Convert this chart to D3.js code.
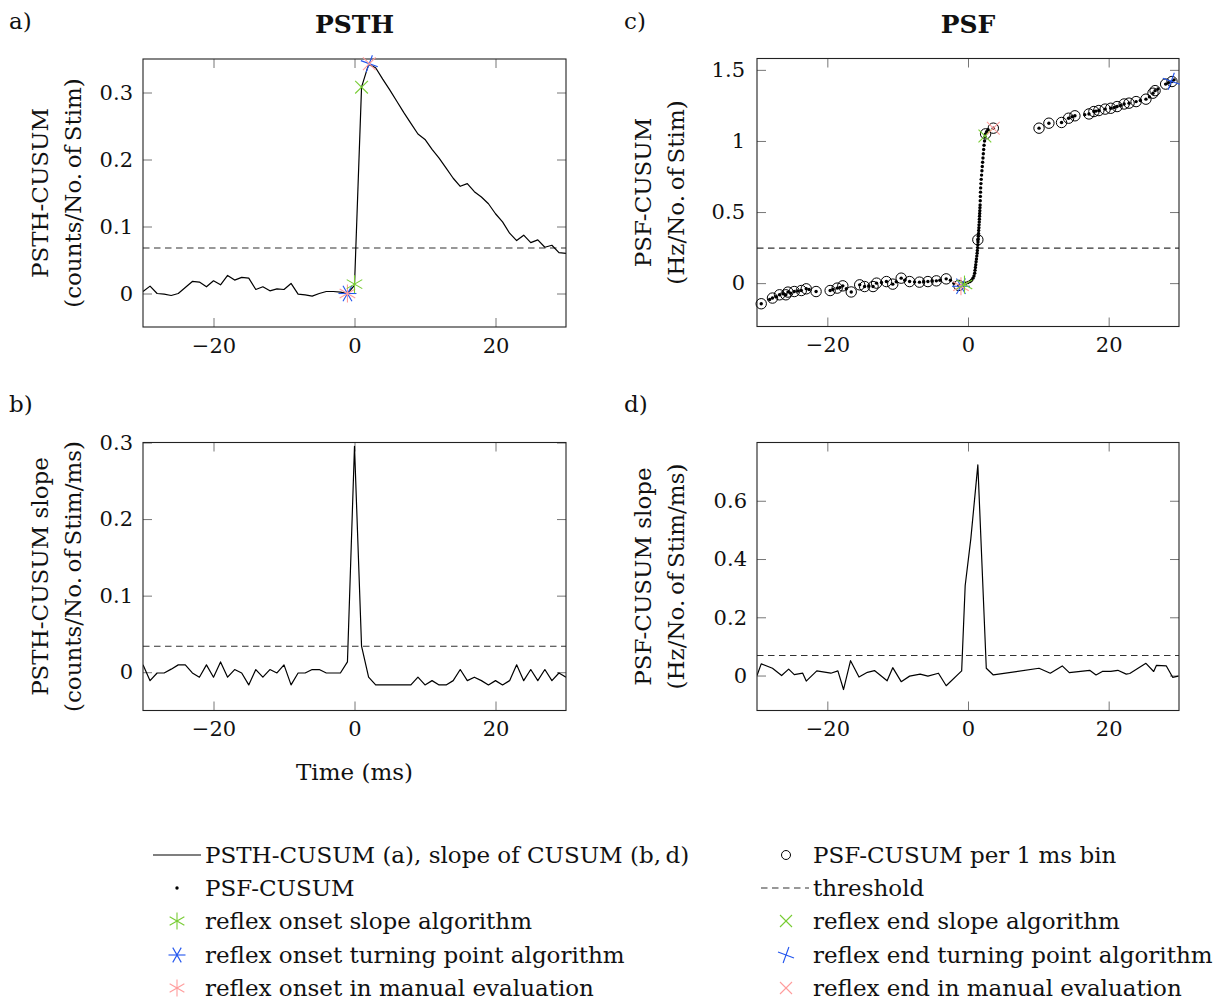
<!DOCTYPE html>
<meta charset="utf-8">
<script src="https://d3js.org/d3.v7.min.js"></script>
<body style="margin: 0; background: #fff;">
<svg id="fig" width="1228" height="1003"></svg>
</body>

<style>
  text { font-family: "DejaVu Serif", "Liberation Serif", serif; fill: #111; }
  .tick line { stroke: #777; stroke-width: 1px; }
</style>

<script>

// ---- data ----
var timeMs = d3.range(-30, 31);   // 1 ms bins, -30 .. 30

var psthCusum = [0.003, 0.011, 0.000, -0.001, -0.003, 0.000, 0.009, 0.018, 0.017, 0.010,
                 0.019, 0.013, 0.027, 0.020, 0.024, 0.023, 0.006, 0.010, 0.004, 0.007,
                 0.006, 0.015, -0.001, -0.002, -0.004, 0.000, 0.003, 0.003, 0.002, 0.000,
                 0.012, 0.308, 0.342, 0.337, 0.320, 0.304, 0.287, 0.270, 0.254, 0.238,
                 0.230, 0.215, 0.202, 0.187, 0.172, 0.160, 0.164, 0.152, 0.144, 0.134,
                 0.119, 0.107, 0.090, 0.079, 0.087, 0.076, 0.080, 0.069, 0.072, 0.061, 0.060];

var psthSlope = [0.0096, -0.011, -0.001, -0.001, 0.004, 0.0096, 0.0096, -0.001, -0.0065, 0.0096,
                 -0.0065, 0.0135, -0.0065, 0.0035, -0.001, -0.0166, 0.0035, -0.0065, 0.0035, -0.001,
                 0.0096, -0.0166, -0.001, -0.001, 0.0035, 0.0035, -0.001, -0.001, -0.001, 0.0135,
                 0.295, 0.034, -0.0065, -0.0166, -0.0166, -0.0166, -0.0166, -0.0166, -0.0166, -0.0065,
                 -0.0166, -0.011, -0.0166, -0.0166, -0.011, 0.0035, -0.011, -0.0065, -0.011, -0.0166,
                 -0.011, -0.0166, -0.011, 0.0096, -0.011, 0.0035, -0.011, 0.0035, -0.011, -0.001, -0.0065];

var psfSlopeT = [-30, -29.4, -27.8, -26.5, -25.5, -24.7, -23.5, -23, -21.5, -19.5, -18.5, -17.7, -16.7,
                 -15.5, -14.3, -13.3, -11.5, -10.7, -9.5, -8.3, -6.8, -5.7, -4.2, -3.1, -0.9, -0.4, 0.4,
                 1.4, 2.6, 3.6, 10.1, 11.7, 13.4, 14.4, 17.3, 18.2, 19.1, 20.3, 21.3, 22.5, 23,
                 25.3, 26.4, 26.8, 28.2, 29.1, 29.9];
var psfSlopeV = [0, 0.040, 0.025, 0, 0.022, 0.003, 0.008, -0.019, 0.016, 0.008, 0.016, -0.048, 0.051,
                 -0.005, 0.011, 0.017, -0.018, 0.027, -0.021, -0.002, 0.005, -0.002, 0.008, -0.035, 0.016, 0.309, 0.469,
                 0.723, 0.025, 0.002, 0.025, 0.008, 0.033, 0.010, 0.018, 0.002, 0.014, 0.014, 0.018, 0.005, 0.007,
                 0.042, 0.014, 0.035, 0.033, -0.006, -0.002];

// PSF-CUSUM per 1 ms bin (circles)
var psfBinT = [-29.4, -27.8, -26.8, -25.9, -25.6, -24.7, -23.7, -23.0, -21.6, -19.6, -18.6, -17.8, -16.6,
               -15.4, -14.7, -13.5, -13.0, -11.6, -10.7, -9.5, -8.3, -6.9, -5.7, -4.5, -3.1, -1.3,
               1.4, 2.5, 3.6,
               10.1, 11.5, 13.3, 14.3, 15.2, 17.2, 17.9, 18.6, 19.5, 20.3, 21.2, 22.2, 22.9, 23.9,
               25.3, 26.3, 26.6, 28.1, 29.0];
var psfBinV = [-0.145, -0.105, -0.082, -0.082, -0.063, -0.059, -0.052, -0.040, -0.059, -0.052, -0.035, -0.019, -0.062,
               -0.012, -0.024, -0.024, 0.000, 0.011, -0.007, 0.035, 0.011, 0.007, 0.011, 0.016, 0.030, -0.016,
               0.305, 1.05, 1.09,
               1.09, 1.125, 1.13, 1.16, 1.177, 1.19, 1.207, 1.214, 1.224, 1.23, 1.242, 1.26, 1.266, 1.277,
               1.294, 1.336, 1.354, 1.40, 1.418];

// PSF-CUSUM (single spikes, dots)
var psfSpikeT = [-28.2, -27.3, -26.3, -25.2, -24.2, -22.6, -19.2, -18.2, -17.3, -14.1, -12.3, -10.2, -9.0,
                 -7.6, -6.3, -5.1, -4.0, -2.5, -2.0,
                 -0.6, -0.3, 0.0, 0.3, 0.5, 0.7, 0.85, 0.95, 1.0, 1.05, 1.1, 1.15, 1.2, 1.25, 1.3, 1.33,
                 1.36, 1.4, 1.42, 1.45, 1.47, 1.5, 1.52, 1.55, 1.57, 1.6, 1.62, 1.64, 1.66, 1.68, 1.7,
                 1.72, 1.74, 1.76, 1.78, 1.8, 1.84, 1.88, 1.93, 1.98, 2.03, 2.08, 2.13, 2.18, 2.23, 2.28,
                 2.35, 2.42, 2.65, 2.85,
                 14.8, 16.6, 18.2, 20.8, 21.7, 24.5, 25.8, 27.0, 28.5, 29.3];
var psfSpikeV = [-0.115, -0.095, -0.075, -0.070, -0.055, -0.045, -0.045, -0.030, -0.040, -0.020, 0.005, 0.010, 0.020,
                 0.008, 0.010, 0.015, 0.020, 0.020, 0.000,
                 -0.005, 0.000, 0.005, 0.012, 0.020, 0.035, 0.050, 0.070, 0.090, 0.110, 0.130, 0.150, 0.170, 0.190, 0.210, 0.230,
                 0.250, 0.270, 0.290, 0.310, 0.330, 0.350, 0.370, 0.390, 0.410, 0.430, 0.450, 0.470, 0.490, 0.510, 0.530,
                 0.550, 0.580, 0.610, 0.640, 0.670, 0.700, 0.730, 0.760, 0.790, 0.820, 0.850, 0.880, 0.910, 0.940, 0.970,
                 1.000, 1.030, 1.065, 1.080,
                 1.170, 1.185, 1.210, 1.235, 1.250, 1.285, 1.310, 1.365, 1.410, 1.430];

var thresholds = {a: 0.068, b: 0.034, c: 0.246, d: 0.069};

// detected onset / end points: [t, value]
var onsetSlopeA = [0, 0.014],   onsetTurnA = [-1, 0.0],    onsetManualA = [-1, 0.0];
var endSlopeA   = [1, 0.308],   endTurnA   = [2.1, 0.343], endManualA   = [2.1, 0.343];
var onsetSlopeC = [-0.5, -0.01], onsetTurnC = [-1, -0.022], onsetManualC = [-1, -0.022];
var endSlopeC   = [2.4, 1.035],  endTurnC   = [28.9, 1.42], endManualC   = [3.6, 1.09];

var xTicks = [-20, 0, 20];

var legendLeft  = ["PSTH-CUSUM (a), slope of CUSUM (b,\u2009d)", "PSF-CUSUM",
                   "reflex onset slope algorithm", "reflex onset turning point algorithm",
                   "reflex onset in manual evaluation"];
var legendRight = ["PSF-CUSUM per 1 ms bin", "threshold", "reflex end slope algorithm",
                   "reflex end turning point algorithm", "reflex end in manual evaluation"];

var GREEN = "#77cc33", BLUE = "#2255ee", PINK = "#ff9c9c";

// ---- drawing ----
var svg = d3.select("#fig");
var fmt = d3.format("~g");
var FS_TICK = "21px";
var FS = "23px";

// marker glyphs
function marker(g, type, cx, cy, color, r) {
  r = r || 9;
  var m = g.append("g").attr("transform", "translate(" + cx + "," + cy + ")")
           .attr("stroke", color).attr("stroke-width", 1.1).attr("fill", "none");
  var angles;
  if (type === "asterisk") angles = [90, 30, -30];
  else if (type === "asteriskH") angles = [0, 60, -60];
  else if (type === "cross") angles = [45, -45];
  else if (type === "plus") angles = [70, -20];
  angles.forEach(function(a) {
    var rad = a * Math.PI / 180;
    m.append("line")
      .attr("x1", -r * Math.cos(rad)).attr("y1", r * Math.sin(rad))
      .attr("x2",  r * Math.cos(rad)).attr("y2", -r * Math.sin(rad));
  });
}

var clipId = 0;
function panel(cfg) {
  var g = svg.append("g").attr("transform", "translate(" + cfg.left + "," + cfg.top + ")");
  var x = d3.scaleLinear().domain([-30, 30]).range([0, cfg.w]);
  var y = d3.scaleLinear().domain(cfg.yDomain).range([cfg.h, 0]);

  var id = "clip" + (clipId++);
  g.append("clipPath").attr("id", id).append("rect").attr("width", cfg.w).attr("height", cfg.h);

  function styleAxis(ag) {
    ag.select(".domain").remove();
    ag.attr("font-family", null).attr("font-size", FS_TICK);
  }
  g.append("g").attr("transform", "translate(0," + cfg.h + ")")
    .call(d3.axisBottom(x).tickValues(xTicks).tickSizeInner(-9).tickSizeOuter(0).tickPadding(11).tickFormat(fmt))
    .call(styleAxis);
  g.append("g")
    .call(d3.axisTop(x).tickValues(xTicks).tickSizeInner(-9).tickSizeOuter(0).tickFormat(""))
    .call(styleAxis);
  g.append("g")
    .call(d3.axisLeft(y).tickValues(cfg.yTicks).tickSizeInner(-9).tickSizeOuter(0).tickPadding(cfg.ypad || 10).tickFormat(fmt))
    .call(styleAxis);
  g.append("g").attr("transform", "translate(" + cfg.w + ",0)")
    .call(d3.axisRight(y).tickValues(cfg.yTicks).tickSizeInner(-9).tickSizeOuter(0).tickFormat(""))
    .call(styleAxis);

  var plot = g.append("g").attr("clip-path", "url(#" + id + ")");
  plot.append("line")
    .attr("x1", 0).attr("x2", cfg.w)
    .attr("y1", y(cfg.threshold)).attr("y2", y(cfg.threshold))
    .attr("stroke", "#333").attr("stroke-width", 1.1).attr("stroke-dasharray", "6.5,4.5");

  if (cfg.lineT) {
    var line = d3.line().x(function(d) { return x(d[0]); }).y(function(d) { return y(d[1]); });
    plot.append("path")
      .datum(cfg.lineT.map(function(t, i) { return [t, cfg.lineV[i]]; }))
      .attr("d", line).attr("fill", "none").attr("stroke", "#000").attr("stroke-width", 1.2)
      .attr("stroke-linejoin", "round");
  }

  g.append("rect").attr("width", cfg.w).attr("height", cfg.h)
    .attr("fill", "none").attr("stroke", "#222").attr("stroke-width", 1.1);

  // y label (two lines, rotated)
  cfg.ylabel.forEach(function(txt, i) {
    g.append("text")
      .attr("transform", "translate(" + cfg.ylabelX[i] + "," + (cfg.h / 2) + ") rotate(-90)")
      .attr("text-anchor", "middle").attr("font-size", FS).text(txt);
  });

  return {g: g, x: x, y: y};
}

var pa = panel({left: 143, top: 59, w: 423, h: 268, yDomain: [-0.05, 0.35], yTicks: [0, 0.1, 0.2, 0.3],
  threshold: thresholds.a, lineT: timeMs, lineV: psthCusum,
  ylabel: ["PSTH-CUSUM", "(counts/No.\u2009of\u2009Stim)"], ylabelX: [-95, -62]});
var pb = panel({left: 143, top: 442.5, w: 423, h: 268, yDomain: [-0.05, 0.3], yTicks: [0, 0.1, 0.2, 0.3],
  threshold: thresholds.b, lineT: timeMs, lineV: psthSlope,
  ylabel: ["PSTH-CUSUM slope", "(counts/No.\u2009of\u2009Stim/ms)"], ylabelX: [-95, -62]});
var pc = panel({left: 757, top: 58.5, w: 422, h: 268, yDomain: [-0.305, 1.58], yTicks: [0, 0.5, 1, 1.5],
  threshold: thresholds.c, ypad: 12,
  ylabel: ["PSF-CUSUM", "(Hz/No.\u2009of\u2009Stim)"], ylabelX: [-106, -73]});
var pd = panel({left: 757, top: 442.5, w: 422, h: 268, yDomain: [-0.12, 0.8], yTicks: [0, 0.2, 0.4, 0.6],
  threshold: thresholds.d, lineT: psfSlopeT, lineV: psfSlopeV,
  ylabel: ["PSF-CUSUM slope", "(Hz/No.\u2009of\u2009Stim/ms)"], ylabelX: [-106, -73]});

// panel c: circles and dots
pc.g.append("g").selectAll("circle")
  .data(psfBinT.map(function(t, i) { return [t, psfBinV[i]]; }))
  .join("circle")
    .attr("cx", function(d) { return pc.x(d[0]); })
    .attr("cy", function(d) { return pc.y(d[1]); })
    .attr("r", 5.2).attr("fill", "none").attr("stroke", "#000").attr("stroke-width", 1);
pc.g.append("g").selectAll("circle")
  .data(psfSpikeT.map(function(t, i) { return [t, psfSpikeV[i]]; })
        .concat(psfBinT.map(function(t, i) { return [t, psfBinV[i]]; })))
  .join("circle")
    .attr("cx", function(d) { return pc.x(d[0]); })
    .attr("cy", function(d) { return pc.y(d[1]); })
    .attr("r", 1.7).attr("fill", "#000");

// onset / end markers
function marks(p, onS, onT, onM, enS, enT, enM) {
  marker(p.g, "asteriskH", p.x(onT[0]), p.y(onT[1]), BLUE);
  marker(p.g, "asterisk", p.x(onM[0]), p.y(onM[1]), PINK);
  marker(p.g, "asterisk", p.x(onS[0]), p.y(onS[1]), GREEN);
  marker(p.g, "cross", p.x(enS[0]), p.y(enS[1]), GREEN);
  marker(p.g, "plus", p.x(enT[0]), p.y(enT[1]), BLUE);
  marker(p.g, "cross", p.x(enM[0]), p.y(enM[1]), PINK);
}
marks(pa, onsetSlopeA, onsetTurnA, onsetManualA, endSlopeA, endTurnA, endManualA);
marks(pc, onsetSlopeC, onsetTurnC, onsetManualC, endSlopeC, endTurnC, endManualC);

// titles, panel letters, x label
svg.append("text").attr("x", 354.5).attr("y", 33).attr("text-anchor", "middle")
   .attr("font-size", "25px").attr("font-weight", "bold").text("PSTH");
svg.append("text").attr("x", 968).attr("y", 33).attr("text-anchor", "middle")
   .attr("font-size", "25px").attr("font-weight", "bold").text("PSF");
[["a)", 9, 29], ["c)", 624, 29], ["b)", 9, 412], ["d)", 624, 412]].forEach(function(l) {
  svg.append("text").attr("x", l[1]).attr("y", l[2]).attr("font-size", FS).text(l[0]);
});
svg.append("text").attr("x", 354.5).attr("y", 780).attr("text-anchor", "middle")
   .attr("font-size", FS).text("Time (ms)");

// legend
var leg = svg.append("g");
var rowY = [855, 888, 921, 955, 988];
legendLeft.forEach(function(txt, i) {
  leg.append("text").attr("x", 205).attr("y", rowY[i] + 8).attr("font-size", FS).text(txt);
});
legendRight.forEach(function(txt, i) {
  leg.append("text").attr("x", 813).attr("y", rowY[i] + 8).attr("font-size", FS).text(txt);
});
leg.append("line").attr("x1", 153).attr("x2", 201).attr("y1", rowY[0]).attr("y2", rowY[0])
   .attr("stroke", "#000").attr("stroke-width", 1.2);
leg.append("circle").attr("cx", 177).attr("cy", rowY[1]).attr("r", 1.7).attr("fill", "#000");
marker(leg, "asterisk", 177, rowY[2], GREEN, 8.5);
marker(leg, "asteriskH", 177, rowY[3], BLUE, 8.5);
marker(leg, "asterisk", 177, rowY[4], PINK, 8.5);
leg.append("circle").attr("cx", 786).attr("cy", rowY[0]).attr("r", 4.5)
   .attr("fill", "none").attr("stroke", "#000").attr("stroke-width", 1);
leg.append("line").attr("x1", 761).attr("x2", 809).attr("y1", rowY[1]).attr("y2", rowY[1])
   .attr("stroke", "#333").attr("stroke-width", 1.1).attr("stroke-dasharray", "6.5,4.5");
marker(leg, "cross", 786, rowY[2], GREEN, 8.5);
marker(leg, "plus", 786, rowY[3], BLUE, 8.5);
marker(leg, "cross", 786, rowY[4], PINK, 8.5);

</script>
